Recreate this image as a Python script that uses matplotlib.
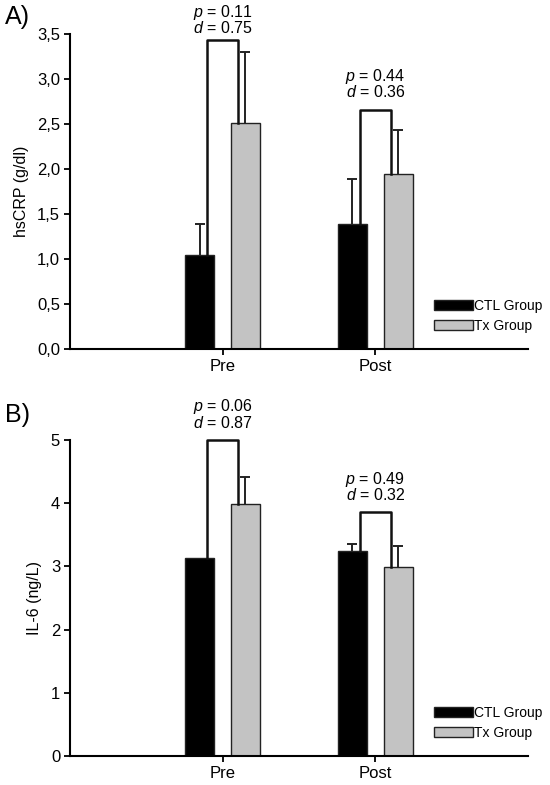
import matplotlib
matplotlib.use('Agg')
import matplotlib.pyplot as plt
from matplotlib.ticker import FuncFormatter

plt.rcParams['font.family'] = ['Liberation Sans', 'DejaVu Sans']
plt.rcParams['mathtext.fontset'] = 'custom'
plt.rcParams['mathtext.it'] = 'Liberation Sans:italic'
plt.rcParams['mathtext.rm'] = 'Liberation Sans'

# Data
phases = ['Pre', 'Post']

crp_ctl = [1.05, 1.39]
crp_ctl_err = [0.34, 0.50]
crp_tx = [2.51, 1.94]
crp_tx_err = [0.79, 0.49]
crp_bracket = [3.43, 2.65]
crp_p = ['0.11', '0.44']
crp_d = ['0.75', '0.36']

il6_ctl = [3.13, 3.24]
il6_ctl_err = [0.0, 0.11]
il6_tx = [3.99, 2.99]
il6_tx_err = [0.42, 0.33]
il6_bracket = [5.0, 3.86]
il6_p = ['0.06', '0.49']
il6_d = ['0.87', '0.32']

BAR_W = 0.19
OFFSET = 0.15
LEG = 0.1


def comma_fmt(v, pos):
    return ('%.1f' % v).replace('.', ',')


def upper_err(ax, xs, vals, errs):
    # error bar drawn only upwards, with a cap at its top (skip empty ones)
    keep = [i for i, e in enumerate(errs) if e > 0]
    xs = [xs[i] for i in keep]
    errs = [errs[i] for i in keep]
    tops = [vals[i] + errs[k] for k, i in enumerate(keep)]
    ax.errorbar(xs, tops, yerr=[errs, [0] * len(errs)], fmt='_', color='#222222',
                markersize=7, markeredgewidth=1.4, elinewidth=1.4, capsize=0, zorder=1)


def draw_panel(ax, ctl, ctl_err, tx, tx_err, bracket, p_vals, d_vals,
               ymax, yticks, ylabel, fmt, tag, tag_y, d_gaps):
    x = [1, 2]
    xc = [i - OFFSET for i in x]
    xt = [i + OFFSET for i in x]

    upper_err(ax, xc, ctl, ctl_err)
    upper_err(ax, xt, tx, tx_err)
    ax.bar(xc, ctl, width=BAR_W, color='black', edgecolor='#222222',
           linewidth=1, label='CTL Group', zorder=2)
    ax.bar(xt, tx, width=BAR_W, color='#c3c3c3', edgecolor='#222222',
           linewidth=1, label='Tx Group', zorder=2)

    for i in range(len(x)):
        ax.plot([x[i] - LEG, x[i] - LEG, x[i] + LEG, x[i] + LEG],
                [ctl[i], bracket[i], bracket[i], tx[i]],
                color='#111111', lw=1.8, clip_on=False, zorder=3)
        gap = d_gaps[i]
        ax.annotate('$\\it{d}$ = ' + d_vals[i], (x[i], bracket[i]),
                    xytext=(0, gap), textcoords='offset pixels',
                    ha='center', va='center', fontsize=11.5)
        ax.annotate('$\\it{p}$ = ' + p_vals[i], (x[i], bracket[i]),
                    xytext=(0, gap + 16), textcoords='offset pixels',
                    ha='center', va='center', fontsize=11.5)

    ax.set_xlim(0, 3)
    ax.set_ylim(0, ymax)
    ax.set_xticks(x)
    ax.set_xticklabels(phases, fontsize=12)
    ax.set_yticks(yticks)
    if fmt is not None:
        ax.yaxis.set_major_formatter(FuncFormatter(fmt))
    ax.tick_params(axis='both', labelsize=12, width=1.3, length=4,
                   direction='out', pad=3)
    ax.set_ylabel(ylabel, fontsize=11.5, labelpad=6)
    for side in ['top', 'right']:
        ax.spines[side].set_visible(False)
    for side in ['left', 'bottom']:
        ax.spines[side].set_linewidth(1.5)

    ax.legend(loc='lower left', bbox_to_anchor=(0.78, 0.03), frameon=False,
              fontsize=10, handlelength=2.8, handleheight=0.75,
              handletextpad=0.1, labelspacing=0.4, borderpad=0)
    ax.text(-0.142, tag_y, tag, transform=ax.transAxes, fontsize=18,
            ha='left', va='bottom')


fig = plt.figure(figsize=(5.5, 7.85), dpi=100)
ax1 = fig.add_axes([0.127, 0.5554, 0.833, 0.4013])
ax2 = fig.add_axes([0.127, 0.0369, 0.833, 0.4026])

draw_panel(ax1, crp_ctl, crp_ctl_err, crp_tx, crp_tx_err, crp_bracket,
           crp_p, crp_d, 3.5, [0, 0.5, 1, 1.5, 2, 2.5, 3, 3.5],
           'hsCRP (g/dl)', comma_fmt, 'A)', 1.015, [12, 18])
draw_panel(ax2, il6_ctl, il6_ctl_err, il6_tx, il6_tx_err, il6_bracket,
           il6_p, il6_d, 5, [0, 1, 2, 3, 4, 5],
           'IL-6 (ng/L)', None, 'B)', 1.04, [17, 17])

fig.savefig('out.png', dpi=100)
